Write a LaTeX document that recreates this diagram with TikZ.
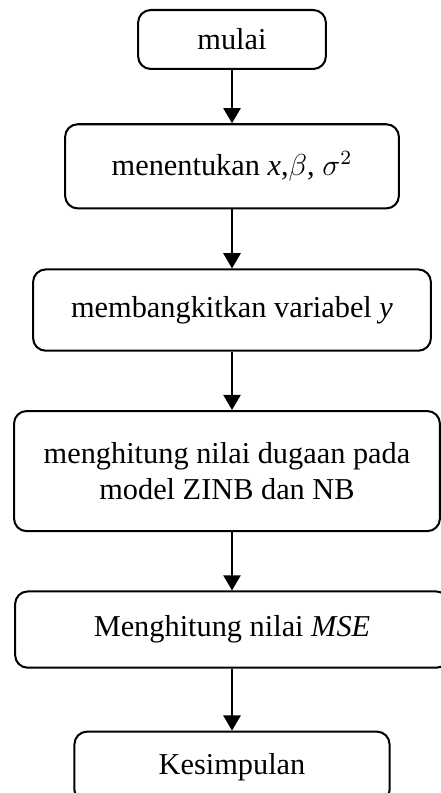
\documentclass[tikz,border=0pt]{standalone}
\usepackage{fontspec}
\setmainfont{Liberation Serif}
\usepackage{tikz}
\usetikzlibrary{arrows.meta,positioning}
\definecolor{ink}{HTML}{000000}
\tikzset{
  procbox/.style={
    rectangle, rounded corners=5pt, draw=ink, thick,
    minimum width=#1, font=\fontsize{12}{14.5}\selectfont,
    align=center, inner sep=3pt
  },
  procbox/.default=4cm,
  flowarrow/.style={
    -{Triangle[length=6pt,width=6.8pt]}, thick, color=ink
  },
}

\begin{document}
\begin{tikzpicture}
    \useasboundingbox (-3.225,0.549) rectangle (2.905,-10.474);
    \node[procbox=2.61cm, minimum height=0.82cm] (start) {mulai};
    \node[procbox=4.64cm, minimum height=1.17cm, below=0.74cm of start] (params)
        {menentukan \textit{x},$\beta$, $\sigma^2$};
    \node[procbox=5.53cm, minimum height=1.13cm, below=0.82cm of params] (gen)
        {membangkitkan variabel \textit{y}};
    \node[procbox=5.92cm, minimum height=1.67cm, below=0.81cm of gen, xshift=-0.07cm] (estim)
        {menghitung nilai dugaan pada\\model ZINB dan NB};
    \node[procbox=6.03cm, minimum height=1.06cm, below=0.81cm of gen.south |- estim.south] (mse)
        {Menghitung nilai \textit{MSE}};
    \node[procbox=4.38cm, minimum height=0.99cm, below=0.86cm of mse] (concl) {Kesimpulan};
    % connectors
    \draw[flowarrow] (start) -- (params);
    \draw[flowarrow] (params) -- (gen);
    \draw[flowarrow] (gen.south) -- (gen.south |- estim.north);
    \draw[flowarrow] (mse.north |- estim.south) -- (mse.north);
    \draw[flowarrow] (mse) -- (concl);
\end{tikzpicture}
\end{document}
